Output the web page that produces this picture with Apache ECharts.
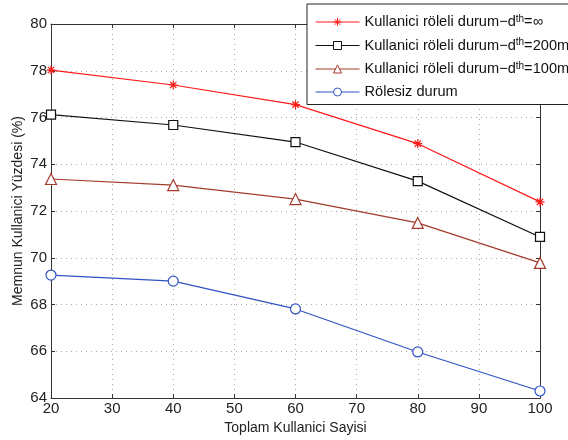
<!doctype html>
<html lang="tr">
<head>
<meta charset="UTF-8" />
<title>Memnun Kullanici Yüzdesi</title>
<style>
  html, body { margin: 0; padding: 0; background: #fff; }
  #chart { width: 568px; height: 440px; }
</style>
</head>
<body>
<div id="chart"></div>
<script src="https://cdn.jsdelivr.net/npm/echarts@6/dist/echarts.min.js"></script>
<script>
// data
const users = [20, 40, 60, 80, 100];
const relayInf = [78.03, 77.39, 76.55, 74.88, 72.39];
const relay200 = [76.12, 75.68, 74.95, 73.28, 70.89];
const relay100 = [73.37, 73.11, 72.51, 71.49, 69.78];
const noRelay = [69.26, 69.0, 67.81, 65.97, 64.3];

const seriesNames = ['relayInf', 'relay200', 'relay100', 'noRelay'];
const legendText = {
  relayInf: '{t|Kullanici röleli durum−d}{s|th}{t|=∞}',
  relay200: '{t|Kullanici röleli durum−d}{s|th}{t|=200m}',
  relay100: '{t|Kullanici röleli durum−d}{s|th}{t|=100m}',
  noRelay: '{t|Rölesiz durum}'
};

const xMin = 20, xMax = 100, xStep = 10;
const yMin = 64, yMax = 80, yStep = 2;

const font = '"Liberation Sans", Arial, Helvetica, sans-serif';
const asterisk = 'path://M0,5L10,5M5,0L5,10M1.5,1.5L8.5,8.5M8.5,1.5L1.5,8.5';

const pairs = (ys) => users.map((x, i) => [x, ys[i]]);

function line(name, ys, color, symbol, size) {
  return {
    name: name,
    type: 'line',
    data: pairs(ys),
    symbol: symbol,
    symbolSize: size,
    lineStyle: { color: color, width: 1.2 },
    itemStyle: {
      color: symbol === asterisk ? color : '#fff',
      borderColor: color,
      borderWidth: 1.2
    },
    emphasis: { disabled: true },
    animation: false
  };
}

const chart = echarts.init(document.getElementById('chart'));

const axisCommon = {
  type: 'value',
  nameMoveOverlap: false,
  axisLine: { show: true, lineStyle: { color: '#333', width: 1 } },
  axisTick: { show: true, inside: true, length: 4, lineStyle: { color: '#333' } },
  axisLabel: { color: '#222', fontSize: 15, fontFamily: font },
  nameTextStyle: { color: '#222', fontSize: 14, fontFamily: font }
};

chart.setOption({
  backgroundColor: '#fff',
  animation: false,
  grid: { left: 51, right: 28, top: 24, bottom: 42, outerBoundsMode: 'none', containLabel: false },
  legend: {
    orient: 'vertical',
    left: 307,
    top: 4,
    data: seriesNames,
    formatter: (n) => legendText[n],
    itemWidth: 44,
    itemHeight: 10,
    itemGap: 8,
    padding: [10, 10, 5, 8],
    backgroundColor: '#fff',
    borderColor: '#222',
    borderWidth: 1,
    borderRadius: 0,
    selectedMode: false,
    lineStyle: { width: 1 },
    itemStyle: { borderWidth: 1 },
    textStyle: {
      fontFamily: font,
      rich: {
        t: { fontSize: 14.6, color: '#111', fontFamily: font, lineHeight: 16 },
        s: { fontSize: 10, color: '#111', fontFamily: font, verticalAlign: 'top', lineHeight: 8 }
      }
    }
  },
  xAxis: [
    Object.assign({}, axisCommon, {
      min: xMin, max: xMax, interval: xStep,
      name: 'Toplam Kullanici Sayisi',
      nameLocation: 'middle',
      nameGap: 23,
      axisLabel: Object.assign({}, axisCommon.axisLabel, { margin: 3 }),
      splitLine: { show: true, lineStyle: { color: '#aaa', type: [1, 4], width: 1 } }
    }),
    Object.assign({}, axisCommon, {
      min: xMin, max: xMax, interval: xStep,
      position: 'top',
      axisLabel: { show: false },
      splitLine: { show: false }
    })
  ],
  yAxis: [
    Object.assign({}, axisCommon, {
      min: yMin, max: yMax, interval: yStep,
      name: 'Memnun Kullanici Yüzdesi (%)',
      nameLocation: 'middle',
      nameGap: 26,
      axisLabel: Object.assign({}, axisCommon.axisLabel, { margin: 4 }),
      splitLine: { show: true, lineStyle: { color: '#aaa', type: [1, 4], width: 1 } }
    }),
    Object.assign({}, axisCommon, {
      min: yMin, max: yMax, interval: yStep,
      position: 'right',
      axisLabel: { show: false },
      splitLine: { show: false }
    })
  ],
  series: [
    line('relayInf', relayInf, '#ff1a1a', asterisk, 9),
    line('relay200', relay200, '#111111', 'rect', 9),
    line('relay100', relay100, '#a33a2c', 'triangle', 11),
    line('noRelay', noRelay, '#3152c4', 'circle', 10)
  ]
});
</script>
</body>
</html>
